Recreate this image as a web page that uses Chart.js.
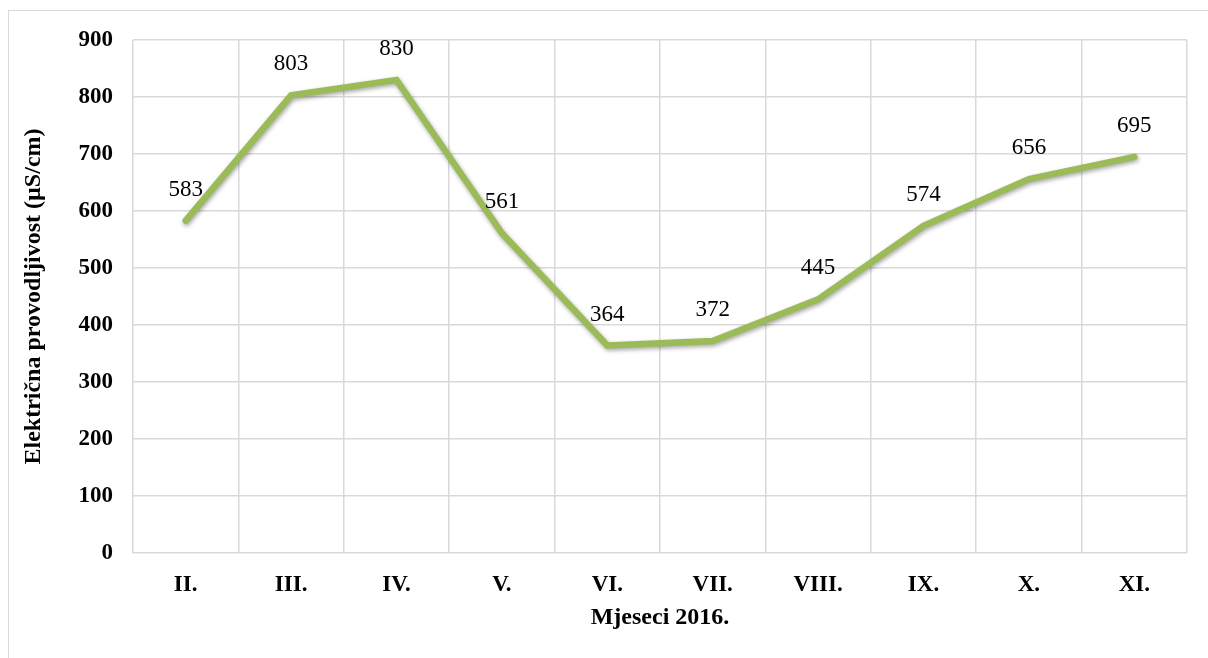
<!DOCTYPE html>
<html>
<head>
<meta charset="utf-8">
<script src="https://cdn.jsdelivr.net/npm/chart.js@4/dist/chart.umd.min.js"></script>
<style>
  html, body { margin: 0; padding: 0; background: #fff; }
  #frame { position: absolute; left: 8px; top: 10px; width: 1300px; height: 700px; border: 1.5px solid #d9d9d9; }
  #wrap { position: absolute; left: 0; top: 0; width: 1208px; height: 658px; }
</style>
</head>
<body>
<div id="frame"></div>
<div id="wrap"><canvas id="ec-chart"></canvas></div>
<script>
const months = ["II.", "III.", "IV.", "V.", "VI.", "VII.", "VIII.", "IX.", "X.", "XI."];
const conductivity = [583, 803, 830, 561, 364, 372, 445, 574, 656, 695];
const yTicks = [0, 100, 200, 300, 400, 500, 600, 700, 800, 900];

const serif = "'Liberation Serif', 'Times New Roman', serif";

// labels above each point
const valueLabels = {
  id: "valueLabels",
  afterDatasetsDraw(chart) {
    const ctx = chart.ctx;
    const meta = chart.getDatasetMeta(0);
    ctx.save();
    ctx.font = "23px " + serif;
    ctx.fillStyle = "#000";
    ctx.textAlign = "center";
    ctx.textBaseline = "middle";
    meta.data.forEach((pt, i) => {
      ctx.fillText(String(conductivity[i]), pt.x, pt.y - 31);
    });
    ctx.restore();
  }
};

const lineShadow = {
  id: "lineShadow",
  beforeDatasetDraw(chart) {
    const ctx = chart.ctx;
    ctx.save();
    ctx.shadowColor = "rgba(0,0,0,0.35)";
    ctx.shadowBlur = 4;
    ctx.shadowOffsetX = 1;
    ctx.shadowOffsetY = 2;
  },
  afterDatasetDraw(chart) {
    chart.ctx.restore();
  }
};

new Chart(document.getElementById("ec-chart"), {
  type: "line",
  data: {
    labels: months,
    datasets: [{
      data: conductivity,
      borderColor: "#9bbb59",
      borderWidth: 6.5,
      borderCapStyle: "round",
      borderJoinStyle: "miter",
      pointRadius: 0,
      tension: 0,
      fill: false
    }]
  },
  options: {
    responsive: true,
    maintainAspectRatio: false,
    animation: false,
    layout: { padding: { top: 40, right: 21, left: 0, bottom: 0 } },
    plugins: {
      legend: { display: false },
      tooltip: { enabled: false }
    },
    scales: {
      x: {
        offset: true,
        grid: { offset: true, color: "#d9d9d9", lineWidth: 1.5, drawTicks: false },
        border: { display: false },
        ticks: {
          padding: 18,
          color: "#000",
          font: { family: serif, size: 23, weight: "bold" }
        },
        title: {
          display: true,
          text: "Mjeseci 2016.",
          color: "#000",
          padding: { top: 0, bottom: 26 },
          font: { family: serif, size: 24, weight: "bold" }
        },
        afterFit(scale) { scale.height = 105; }
      },
      y: {
        min: 0,
        max: 900,
        afterBuildTicks(scale) { scale.ticks = yTicks.map(v => ({ value: v })); },
        grid: { color: "#d9d9d9", lineWidth: 1.5, drawTicks: false },
        border: { display: false },
        ticks: {
          padding: 20,
          color: "#000",
          font: { family: serif, size: 23, weight: "bold" }
        },
        title: {
          display: true,
          text: "Električna provodljivost (µS/cm)",
          color: "#000",
          padding: { top: 19, bottom: 0 },
          font: { family: serif, size: 24, weight: "bold" }
        },
        afterFit(scale) { scale.width = 133; }
      }
    }
  },
  plugins: [lineShadow, valueLabels]
});
</script>
</body>
</html>
